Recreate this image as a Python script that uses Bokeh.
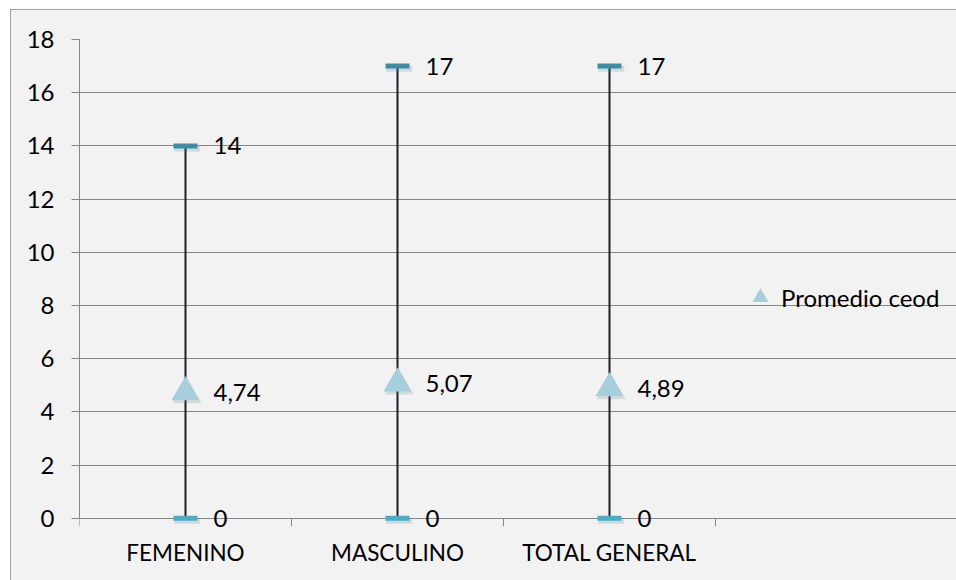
from bokeh.plotting import figure
from bokeh.models import Range1d, FixedTicker, Legend, LegendItem, ColumnDataSource
from bokeh.transform import dodge
from bokeh.embed import file_html
from bokeh.resources import INLINE
from bokeh.core.properties import value

# Data
categorias = ["FEMENINO", "MASCULINO", "TOTAL GENERAL"]
maximo = [14, 17, 17]
minimo = [0, 0, 0]
promedio = [4.74, 5.07, 4.89]
y_ticks = [0, 2, 4, 6, 8, 10, 12, 14, 16, 18]

FONT = "Lato"
FS = "24px"
GRAY = "#868686"

n = len(categorias)
pos = [i + 0.5 for i in range(n)]
src = ColumnDataSource(dict(
    x=pos, hi=maximo, lo=minimo, avg=promedio,
    hi_lbl=[str(v) for v in maximo],
    lo_lbl=[str(v) for v in minimo],
    avg_lbl=[f"{v:.2f}".replace(".", ",") for v in promedio],
))

# The frame runs to the right edge so the legend can sit beside the plotting area;
# grid lines and category ticks are bounded to the categories.
p = figure(
    width=946, height=571,
    x_range=Range1d(0, n * 877 / 636), y_range=Range1d(-0.5, 18),
    output_backend="svg", toolbar_location=None,
    min_border_left=69, min_border_right=0, min_border_top=30, min_border_bottom=49,
    frame_width=877, frame_height=492,
    background_fill_color="#f2f2f2", border_fill_color="#f2f2f2",
    outline_line_color=None, margin=(9, 0, 0, 10),
    styles={"box-shadow": f"inset 1px 1px 0 {GRAY}", "background-color": "#f2f2f2"},
)

# Category names centred between the boundaries
p.xaxis.ticker = FixedTicker(ticks=pos)
p.xaxis.major_label_overrides = {x: c for x, c in zip(pos, categorias)}
p.xaxis.axis_line_color = None
p.xaxis.major_tick_line_color = None
p.xaxis.major_label_standoff = 1
p.xaxis.major_label_text_font_size = "22.5px"

p.yaxis.ticker = FixedTicker(ticks=y_ticks)
p.yaxis.bounds = (0, 18)
p.yaxis.major_tick_out = 8
p.yaxis.major_tick_in = 0
p.yaxis.major_tick_line_color = GRAY
p.yaxis.axis_line_color = GRAY
p.yaxis.major_label_standoff = 17
p.yaxis.major_label_text_font_size = FS

for ax in (p.xaxis, p.yaxis):
    ax.major_label_text_font = FONT
    ax.major_label_text_color = "#000000"

p.xgrid.visible = False
p.ygrid.ticker = FixedTicker(ticks=y_ticks)
p.ygrid.bounds = (0, n)
p.ygrid.grid_line_color = GRAY
p.ygrid.grid_line_width = 1

# Category boundary ticks below the zero line
bounds_x = list(range(n + 1))
p.segment(x0=bounds_x, y0=[0] * (n + 1), x1=bounds_x, y1=[-0.3] * (n + 1),
          line_color=GRAY, line_width=1)

# High-low lines
p.segment(x0="x", y0="lo", x1="x", y1="hi", line_color="#1c1c2c", line_width=2, source=src)

# Soft shadows under markers
for col in ("hi", "lo"):
    p.rect(x=dodge("x", 0.008, range=p.x_range), y=dodge(col, -0.1, range=p.y_range),
           width=26, height=6, width_units="screen", height_units="screen",
           fill_color="#7a7a7a", fill_alpha=0.22, line_color=None, source=src)
p.scatter(x=dodge("x", 0.008, range=p.x_range), y=dodge("avg", -0.1, range=p.y_range),
          marker="triangle", size=29, fill_color="#7a7a7a", fill_alpha=0.2,
          line_color=None, source=src)

# High / low caps
p.rect(x="x", y="hi", width=24, height=5, width_units="screen", height_units="screen",
       fill_color="#3a8ea5", line_color=None, source=src)
p.rect(x="x", y="lo", width=24, height=5, width_units="screen", height_units="screen",
       fill_color="#4bacc6", line_color=None, source=src)

# Average markers
tri = p.scatter(x="x", y="avg", marker="triangle", size=28, fill_color="#a5cfdc",
                line_color=None, source=src)

# Value labels
for y_col, t_col in (("hi", "hi_lbl"), ("lo", "lo_lbl"), ("avg", "avg_lbl")):
    p.text(x="x", y=y_col, text=t_col, x_offset=28, text_align="left",
           text_baseline="middle", text_font=value(FONT), text_font_size=FS,
           text_color="#000000", source=src)

legend = Legend(
    items=[LegendItem(label="Promedio ceod", renderers=[tri])],
    location=(661, 214), orientation="vertical",
    glyph_width=40, glyph_height=40, label_standoff=1,
    margin=0, padding=0, spacing=0,
    border_line_color=None, background_fill_alpha=0,
    label_text_font=FONT, label_text_font_size=FS, label_text_color="#000000",
)
p.add_layout(legend, "center")

open("out.html", "w").write(file_html(p, INLINE))
